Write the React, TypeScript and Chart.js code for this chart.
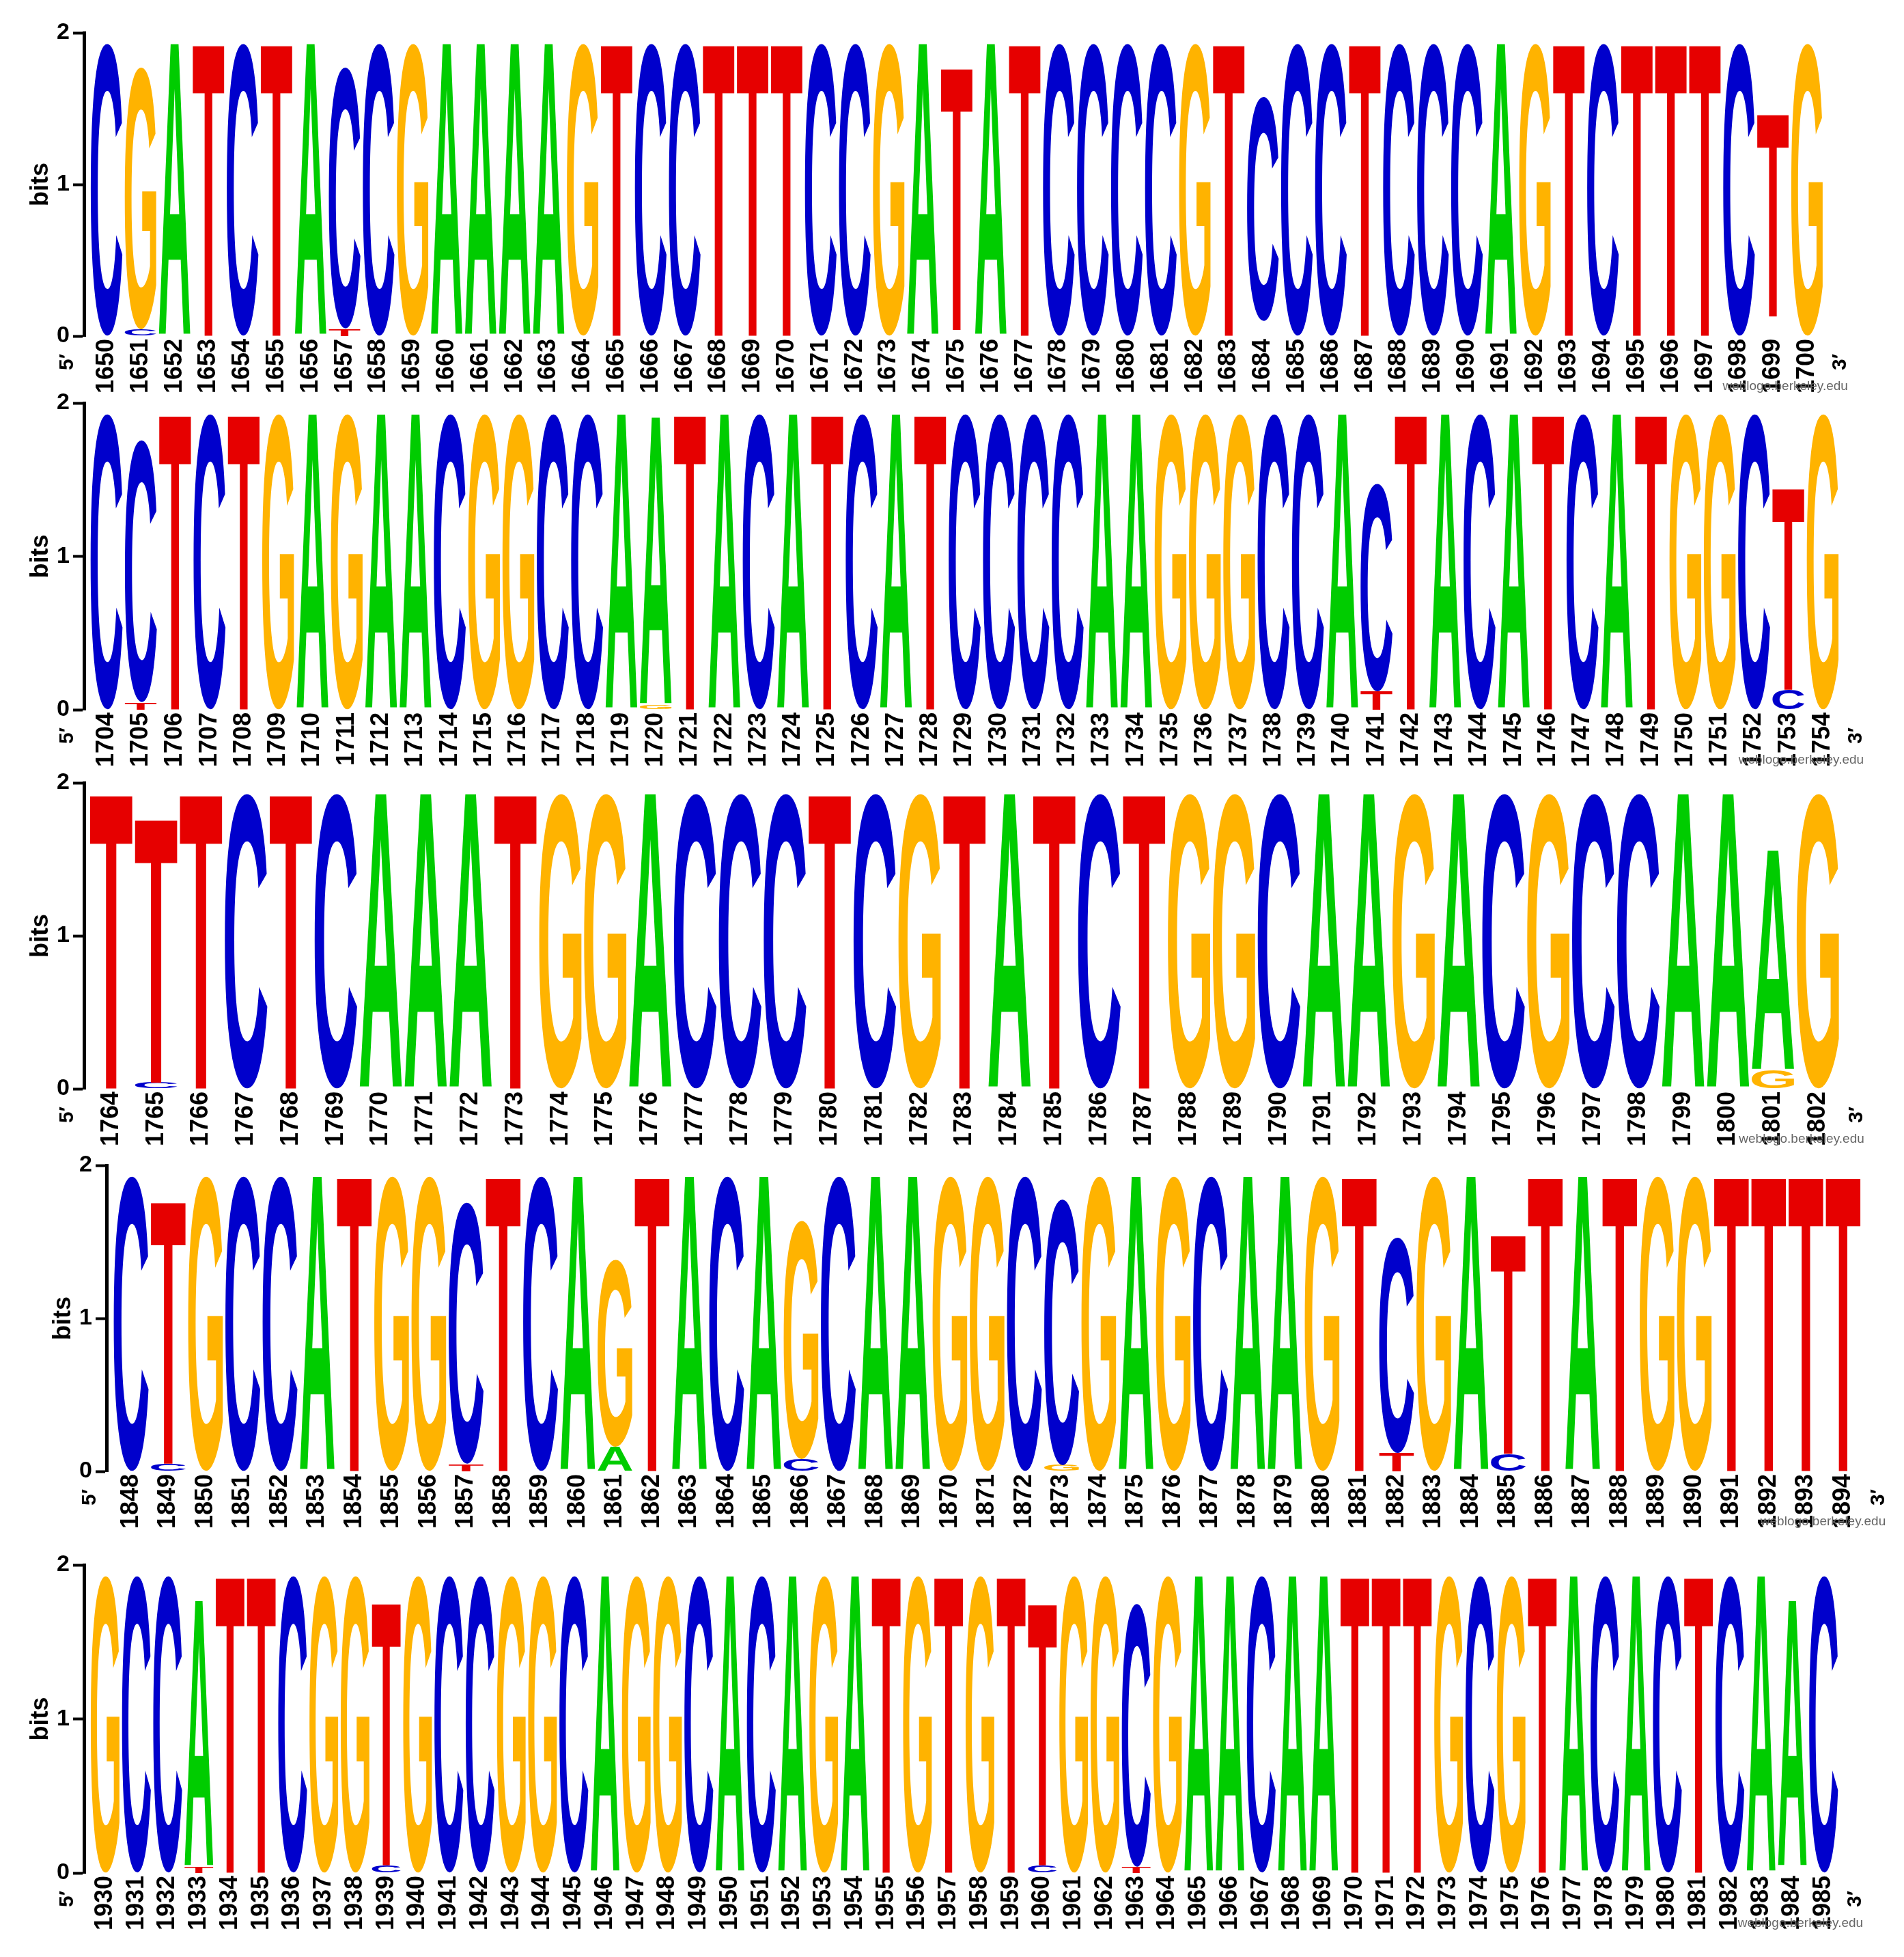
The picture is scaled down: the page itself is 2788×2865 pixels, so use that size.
import React, { useEffect, useRef } from 'react';
import { Chart, registerables } from 'chart.js';

Chart.register(...registerables);

// ---------------- DATA ----------------
const ROW1_POSITIONS = [1650, 1651, 1652, 1653, 1654, 1655, 1656, 1657, 1658, 1659, 1660, 1661, 1662, 1663, 1664, 1665, 1666, 1667, 1668, 1669, 1670, 1671, 1672, 1673, 1674, 1675, 1676, 1677, 1678, 1679, 1680, 1681, 1682, 1683, 1684, 1685, 1686, 1687, 1688, 1689, 1690, 1691, 1692, 1693, 1694, 1695, 1696, 1697, 1698, 1699, 1700];
const ROW1_MAJOR = 'CGATCTACCGAAAAGTCCTTTCCGATATCCCCGTCCCTCCCAGTCTTTCTG';
const ROW1_MAJOR_BITS = [1.93, 1.73, 1.93, 1.93, 1.93, 1.93, 1.93, 1.725, 1.93, 1.93, 1.93, 1.93, 1.93, 1.93, 1.93, 1.93, 1.93, 1.93, 1.93, 1.93, 1.93, 1.93, 1.93, 1.93, 1.93, 1.735, 1.93, 1.93, 1.93, 1.93, 1.93, 1.93, 1.93, 1.93, 1.48, 1.93, 1.93, 1.93, 1.93, 1.93, 1.93, 1.93, 1.93, 1.93, 1.93, 1.93, 1.93, 1.93, 1.93, 1.34, 1.93];
const ROW1_MINOR = '.C.....T.......................C........T..............C.';
const ROW1_MINOR_BITS = [0, 0.045, 0, 0, 0, 0, 0, 0.05, 0, 0, 0, 0, 0, 0, 0, 0, 0, 0, 0, 0, 0, 0, 0, 0, 0, 0.04, 0, 0, 0, 0, 0, 0, 0, 0, 0.1, 0, 0, 0, 0, 0, 0, 0, 0, 0, 0, 0, 0, 0, 0, 0.13, 0];

const ROW2_POSITIONS = [1704, 1705, 1706, 1707, 1708, 1709, 1710, 1711, 1712, 1713, 1714, 1715, 1716, 1717, 1718, 1719, 1720, 1721, 1722, 1723, 1724, 1725, 1726, 1727, 1728, 1729, 1730, 1731, 1732, 1733, 1734, 1735, 1736, 1737, 1738, 1739, 1740, 1741, 1742, 1743, 1744, 1745, 1746, 1747, 1748, 1749, 1750, 1751, 1752, 1753, 1754];
const ROW2_MAJOR = 'CCTCTGAGAACGGCCAATACATCATCCCCAAGGGCCACTACATCATGGCTG';
const ROW2_MAJOR_BITS = [1.93, 1.71, 1.93, 1.93, 1.93, 1.93, 1.93, 1.93, 1.93, 1.93, 1.93, 1.93, 1.93, 1.93, 1.93, 1.93, 1.88, 1.93, 1.93, 1.93, 1.93, 1.93, 1.93, 1.93, 1.93, 1.93, 1.93, 1.93, 1.93, 1.93, 1.93, 1.93, 1.93, 1.93, 1.93, 1.93, 1.93, 1.355, 1.93, 1.93, 1.93, 1.93, 1.93, 1.93, 1.93, 1.93, 1.93, 1.93, 1.93, 1.32, 1.93];
const ROW2_MINOR = '.T..............G....................T...........C.';
const ROW2_MINOR_BITS = [0, 0.05, 0, 0, 0, 0, 0, 0, 0, 0, 0, 0, 0, 0, 0, 0, 0.03, 0, 0, 0, 0, 0, 0, 0, 0, 0, 0, 0, 0, 0, 0, 0, 0, 0, 0, 0, 0, 0.12, 0, 0, 0, 0, 0, 0, 0, 0, 0, 0, 0, 0.13, 0];

const ROW3_POSITIONS = [1764, 1765, 1766, 1767, 1768, 1769, 1770, 1771, 1772, 1773, 1774, 1775, 1776, 1777, 1778, 1779, 1780, 1781, 1782, 1783, 1784, 1785, 1786, 1787, 1788, 1789, 1790, 1791, 1792, 1793, 1794, 1795, 1796, 1797, 1798, 1799, 1800, 1801, 1802];
const ROW3_MAJOR = 'TTTCTCAAATGGACCCTCGTATCTGGCAAGACGCCAAAG';
const ROW3_MAJOR_BITS = [1.93, 1.73, 1.93, 1.93, 1.93, 1.93, 1.93, 1.93, 1.93, 1.93, 1.93, 1.93, 1.93, 1.93, 1.93, 1.93, 1.93, 1.93, 1.93, 1.93, 1.93, 1.93, 1.93, 1.93, 1.93, 1.93, 1.93, 1.93, 1.93, 1.93, 1.93, 1.93, 1.93, 1.93, 1.93, 1.93, 1.93, 1.44, 1.93];
const ROW3_MINOR = '.C...................................G.';
const ROW3_MINOR_BITS = [0, 0.04, 0, 0, 0, 0, 0, 0, 0, 0, 0, 0, 0, 0, 0, 0, 0, 0, 0, 0, 0, 0, 0, 0, 0, 0, 0, 0, 0, 0, 0, 0, 0, 0, 0, 0, 0, 0.12, 0];

const ROW4_POSITIONS = [1848, 1849, 1850, 1851, 1852, 1853, 1854, 1855, 1856, 1857, 1858, 1859, 1860, 1861, 1862, 1863, 1864, 1865, 1866, 1867, 1868, 1869, 1870, 1871, 1872, 1873, 1874, 1875, 1876, 1877, 1878, 1879, 1880, 1881, 1882, 1883, 1884, 1885, 1886, 1887, 1888, 1889, 1890, 1891, 1892, 1893, 1894];
const ROW4_MAJOR = 'CTGCCATGGCTCAGTACAGCAAGGCCGAGCAAGTCGATTATGGTTTT';
const ROW4_MAJOR_BITS = [1.93, 1.72, 1.93, 1.93, 1.93, 1.93, 1.93, 1.93, 1.93, 1.71, 1.93, 1.93, 1.93, 1.225, 1.93, 1.93, 1.93, 1.93, 1.56, 1.93, 1.93, 1.93, 1.93, 1.93, 1.93, 1.74, 1.93, 1.93, 1.93, 1.93, 1.93, 1.93, 1.93, 1.93, 1.41, 1.93, 1.93, 1.435, 1.93, 1.93, 1.93, 1.93, 1.93, 1.93, 1.93, 1.93, 1.93];
const ROW4_MINOR = '.C.......T...A....C......G........T..C.........';
const ROW4_MINOR_BITS = [0, 0.05, 0, 0, 0, 0, 0, 0, 0, 0.05, 0, 0, 0, 0.16, 0, 0, 0, 0, 0.08, 0, 0, 0, 0, 0, 0, 0.04, 0, 0, 0, 0, 0, 0, 0, 0, 0.12, 0, 0, 0.115, 0, 0, 0, 0, 0, 0, 0, 0, 0];

const ROW5_POSITIONS = [1930, 1931, 1932, 1933, 1934, 1935, 1936, 1937, 1938, 1939, 1940, 1941, 1942, 1943, 1944, 1945, 1946, 1947, 1948, 1949, 1950, 1951, 1952, 1953, 1954, 1955, 1956, 1957, 1958, 1959, 1960, 1961, 1962, 1963, 1964, 1965, 1966, 1967, 1968, 1969, 1970, 1971, 1972, 1973, 1974, 1975, 1976, 1977, 1978, 1979, 1980, 1981, 1982, 1983, 1984, 1985];
const ROW5_MAJOR = 'GCCATTCGGTGCCGGCAGGCACAGATGTGTTGGCGAACAATTTGCGTACACTCAAC';
const ROW5_MAJOR_BITS = [1.93, 1.93, 1.93, 1.73, 1.93, 1.93, 1.93, 1.93, 1.93, 1.71, 1.93, 1.93, 1.93, 1.93, 1.93, 1.93, 1.93, 1.93, 1.93, 1.93, 1.93, 1.93, 1.93, 1.93, 1.93, 1.93, 1.93, 1.93, 1.93, 1.93, 1.705, 1.93, 1.93, 1.71, 1.93, 1.93, 1.93, 1.93, 1.93, 1.93, 1.93, 1.93, 1.93, 1.93, 1.93, 1.93, 1.93, 1.93, 1.93, 1.93, 1.93, 1.93, 1.93, 1.93, 1.73, 1.93];
const ROW5_MINOR = '...T.....C....................C..T.....................G.';
const ROW5_MINOR_BITS = [0, 0, 0, 0.04, 0, 0, 0, 0, 0, 0.05, 0, 0, 0, 0, 0, 0, 0, 0, 0, 0, 0, 0, 0, 0, 0, 0, 0, 0, 0, 0, 0.05, 0, 0, 0.04, 0, 0, 0, 0, 0, 0, 0, 0, 0, 0, 0, 0, 0, 0, 0, 0, 0, 0, 0, 0, 0.04, 0];

const BITS_TICKS = [0, 1, 2];
const Y_TITLE = 'bits';
const FIVE_PRIME = '5\u2032';
const THREE_PRIME = '3\u2032';
const CREDIT = 'weblogo.berkeley.edu';

const ROWS = [
  { positions: ROW1_POSITIONS, major: ROW1_MAJOR, majorBits: ROW1_MAJOR_BITS, minor: ROW1_MINOR, minorBits: ROW1_MINOR_BITS },
  { positions: ROW2_POSITIONS, major: ROW2_MAJOR, majorBits: ROW2_MAJOR_BITS, minor: ROW2_MINOR, minorBits: ROW2_MINOR_BITS },
  { positions: ROW3_POSITIONS, major: ROW3_MAJOR, majorBits: ROW3_MAJOR_BITS, minor: ROW3_MINOR, minorBits: ROW3_MINOR_BITS },
  { positions: ROW4_POSITIONS, major: ROW4_MAJOR, majorBits: ROW4_MAJOR_BITS, minor: ROW4_MINOR, minorBits: ROW4_MINOR_BITS },
  { positions: ROW5_POSITIONS, major: ROW5_MAJOR, majorBits: ROW5_MAJOR_BITS, minor: ROW5_MINOR, minorBits: ROW5_MINOR_BITS },
];

// ---------------- LAYOUT / STYLE ----------------
const PAGE_W = 2788;
const PAGE_H = 2865;
const PAD_TOP = 30;
const X_AXIS_H = 110;
const GLYPH_GAP = 3.5;

const ROW_GEOMETRY = [
  { axisX: 123, firstCenter: 156, pitch: 49.8, top2: 48, base0: 492 },
  { axisX: 123, firstCenter: 156, pitch: 50.26, top2: 590, base0: 1039 },
  { axisX: 123, firstCenter: 163, pitch: 65.76, top2: 1146, base0: 1594 },
  { axisX: 156, firstCenter: 192, pitch: 54.5, top2: 1706, base0: 2154 },
  { axisX: 123, firstCenter: 154, pitch: 45.75, top2: 2291, base0: 2742 },
];

const LETTER_COLORS: Record<string, string> = {
  A: '#00CC00',
  C: '#0000CC',
  G: '#FFB300',
  T: '#E60000',
};

const GLYPH_FONT = 'bold 200px "Liberation Sans", Arial, Helvetica, sans-serif';
const TICK_FONT = { family: '"Liberation Sans", Arial, Helvetica, sans-serif', size: 36, weight: 'bold' };
const Y_TICK_FONT = { family: '"Liberation Sans", Arial, Helvetica, sans-serif', size: 34, weight: 'bold' };
const TITLE_FONT = { family: '"Liberation Sans", Arial, Helvetica, sans-serif', size: 36, weight: 'bold' };

const glyphMetrics: Record<string, { l: number; r: number; a: number; d: number }> = {};

function drawGlyph(ctx: CanvasRenderingContext2D, letter: string, x0: number, y0: number, w: number, h: number, color: string) {
  ctx.save();
  ctx.font = GLYPH_FONT;
  ctx.textAlign = 'left';
  ctx.textBaseline = 'alphabetic';
  let m = glyphMetrics[letter];
  if (!m) {
    const t = ctx.measureText(letter);
    m = { l: t.actualBoundingBoxLeft, r: t.actualBoundingBoxRight, a: t.actualBoundingBoxAscent, d: t.actualBoundingBoxDescent };
    glyphMetrics[letter] = m;
  }
  const gw = m.l + m.r;
  const gh = m.a + m.d;
  ctx.translate(x0, y0);
  ctx.scale(w / gw, h / gh);
  ctx.fillStyle = color;
  ctx.fillText(letter, m.l, m.a);
  ctx.restore();
}

const glyphPlugin = {
  id: 'logoGlyphs',
  afterDatasetsDraw(chart: any) {
    const ctx = chart.ctx;
    chart.data.datasets.forEach((ds: any, di: number) => {
      const meta = chart.getDatasetMeta(di);
      meta.data.forEach((el: any, i: number) => {
        const letter = ds.letters[i];
        if (!letter || letter === '.') return;
        const { x, y, base, width } = el.getProps(['x', 'y', 'base', 'width'], true);
        const top = Math.min(y, base);
        const h = Math.abs(base - y);
        if (h < 0.5) return;
        const w = width - GLYPH_GAP;
        drawGlyph(ctx, letter, x - w / 2, top, w, h, LETTER_COLORS[letter]);
      });
    });
  },
};

function drawRotated(ctx: CanvasRenderingContext2D, text: string, x: number, y: number) {
  ctx.save();
  ctx.translate(x, y);
  ctx.rotate(-Math.PI / 2);
  ctx.textAlign = 'center';
  ctx.textBaseline = 'middle';
  ctx.fillText(text, 0, 0);
  ctx.restore();
}

const endLabelsPlugin = {
  id: 'endLabels',
  afterDraw(chart: any) {
    const { ctx, chartArea } = chart;
    ctx.save();
    ctx.fillStyle = '#000';
    ctx.font = 'bold 30px "Liberation Sans", Arial, sans-serif';
    drawRotated(ctx, FIVE_PRIME, chartArea.left - 24, chartArea.bottom + 38);
    drawRotated(ctx, THREE_PRIME, chartArea.right + 24, chartArea.bottom + 38);
    ctx.font = '19px "Liberation Sans", Arial, sans-serif';
    ctx.fillStyle = '#666';
    ctx.textAlign = 'right';
    ctx.textBaseline = 'middle';
    ctx.fillText(CREDIT, chartArea.right + 35, chartArea.bottom + 74);
    ctx.restore();
  },
};

function LogoRow({ row, geom }: { row: any; geom: any }) {
  const ref = useRef<HTMLCanvasElement>(null);
  const first = row.positions[0];
  const last = row.positions[row.positions.length - 1];
  const off = (geom.firstCenter - geom.axisX) / geom.pitch;
  const xMin = first - off;
  const xMax = last + 0.5;
  const chartRight = geom.axisX + geom.pitch * (xMax - xMin);
  const canvasTop = geom.top2 - PAD_TOP;
  const canvasH = Math.round(geom.base0 - geom.top2 + PAD_TOP + X_AXIS_H);

  useEffect(() => {
    if (!ref.current) return;
    const chart = new Chart(ref.current, {
      type: 'bar',
      data: {
        datasets: [
          {
            label: 'minor',
            letters: row.minor.split(''),
            data: row.positions.map((p: number, i: number) => ({ x: p, y: row.minorBits[i] })),
            backgroundColor: 'rgba(0,0,0,0)',
            borderWidth: 0,
            barPercentage: 1,
            categoryPercentage: 1,
          } as any,
          {
            label: 'major',
            letters: row.major.split(''),
            data: row.positions.map((p: number, i: number) => ({ x: p, y: row.majorBits[i] })),
            backgroundColor: 'rgba(0,0,0,0)',
            borderWidth: 0,
            barPercentage: 1,
            categoryPercentage: 1,
          } as any,
        ],
      },
      options: {
        responsive: false,
        animation: false,
        devicePixelRatio: 1,
        layout: { padding: { top: PAD_TOP, right: PAGE_W - chartRight, bottom: 0, left: 0 } },
        plugins: {
          legend: { display: false },
          tooltip: { enabled: false },
          title: { display: false },
        },
        scales: {
          x: {
            type: 'linear',
            stacked: true,
            min: xMin,
            max: xMax,
            bounds: 'data',
            offset: false,
            afterBuildTicks: (scale: any) => {
              scale.ticks = row.positions.map((v: number) => ({ value: v }));
            },
            afterFit: (scale: any) => {
              scale.height = X_AXIS_H;
            },
            grid: { display: false, drawTicks: false },
            border: { display: false },
            ticks: {
              autoSkip: false,
              maxRotation: 90,
              minRotation: 90,
              padding: 4,
              color: '#000',
              font: TICK_FONT,
              callback: (v: any) => String(v),
            },
          },
          y: {
            type: 'linear',
            stacked: true,
            min: 0,
            max: 2,
            position: 'left',
            afterBuildTicks: (scale: any) => {
              scale.ticks = BITS_TICKS.map((v) => ({ value: v }));
            },
            afterFit: (scale: any) => {
              scale.width = geom.axisX;
            },
            grid: {
              drawOnChartArea: false,
              drawTicks: true,
              tickLength: 16,
              tickWidth: 4,
              tickColor: '#000',
              color: '#000',
            },
            border: { display: true, color: '#000', width: 5 },
            ticks: {
              padding: 5,
              color: '#000',
              font: Y_TICK_FONT,
              callback: (v: any) => String(v),
            },
            title: {
              display: true,
              text: Y_TITLE,
              color: '#000',
              font: TITLE_FONT,
              padding: { top: geom.axisX - 63 - 21.6, bottom: 0 },
            },
          },
        },
      } as any,
      plugins: [glyphPlugin, endLabelsPlugin],
    });
    return () => chart.destroy();
  }, []);

  return (
    <canvas
      ref={ref}
      width={PAGE_W}
      height={canvasH}
      style={{ position: 'absolute', left: 0, top: canvasTop, width: PAGE_W, height: canvasH, display: 'block' }}
    />
  );
}

export default function App() {
  return (
    <div style={{ position: 'absolute', left: 0, top: 0, width: PAGE_W, height: PAGE_H, background: '#fff', overflow: 'hidden' }}>
      {ROWS.map((row, i) => (
        <LogoRow key={i} row={row} geom={ROW_GEOMETRY[i]} />
      ))}
    </div>
  );
}
